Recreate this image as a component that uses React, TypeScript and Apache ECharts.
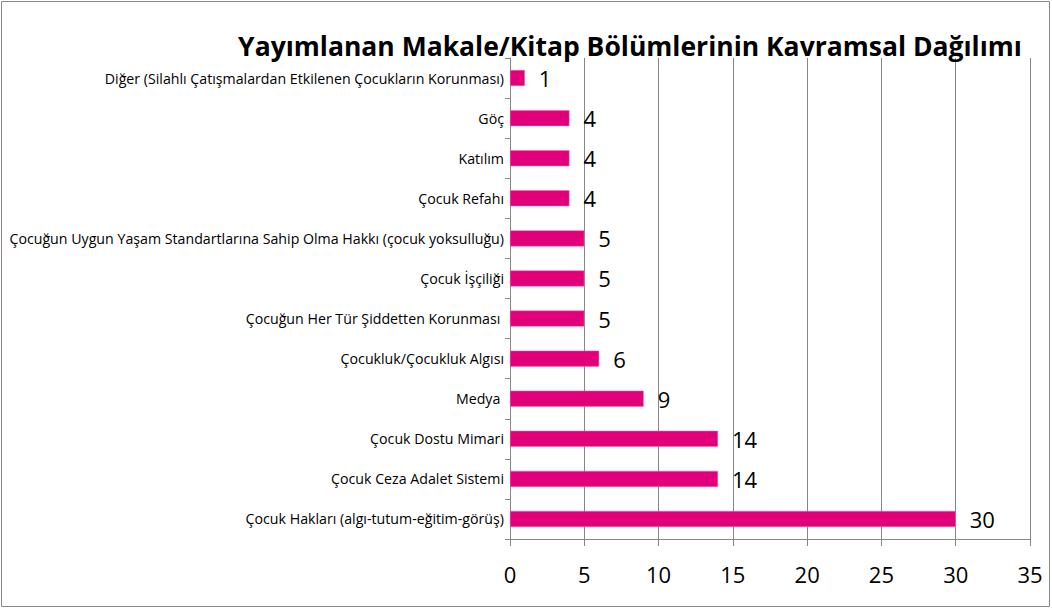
import React, { useEffect, useRef } from "react";
import * as echarts from "echarts";

const categories = [
  "Çocuk Hakları (algı-tutum-eğitim-görüş)",
  "Çocuk Ceza Adalet Sistemi",
  "Çocuk Dostu Mimari",
  "Medya ",
  "Çocukluk/Çocukluk Algısı",
  "Çocuğun Her Tür Şiddetten Korunması ",
  "Çocuk İşçiliği",
  "Çocuğun Uygun Yaşam Standartlarına Sahip Olma Hakkı (çocuk yoksulluğu)",
  "Çocuk Refahı",
  "Katılım",
  "Göç",
  "Diğer (Silahlı Çatışmalardan Etkilenen Çocukların Korunması)",
];
const values = [30, 14, 14, 9, 6, 5, 5, 5, 4, 4, 4, 1];
const title = "Yayımlanan Makale/Kitap Bölümlerinin Kavramsal Dağılımı";

export default function App() {
  const ref = useRef<HTMLDivElement>(null);
  useEffect(() => {
    document.body.style.margin = "0";
    const chart = echarts.init(ref.current!, null, { renderer: "svg" });
    const font = "'Open Sans', sans-serif";
    chart.setOption({
      animation: false,
      textStyle: { fontFamily: font },
      title: {
        text: title,
        left: 625,
        top: 27,
        textAlign: "center",
        textStyle: { fontSize: 26.5, fontWeight: "bold", color: "#000", fontFamily: font },
      },
      graphic: [
        {
          type: "rect",
          shape: { x: 1.5, y: 1.5, width: 1048, height: 605 },
          style: { fill: "none", stroke: "#888", lineWidth: 1 },
          silent: true,
        },
      ],
      grid: { left: 510, right: 22, top: 58, bottom: 70, containLabel: false },
      xAxis: {
        type: "value",
        min: 0,
        max: 35,
        interval: 5,
        axisLine: { show: true, lineStyle: { color: "#868686" } },
        axisTick: { show: true, length: 7, lineStyle: { color: "#868686" } },
        splitLine: { show: true, lineStyle: { color: "#868686", width: 1 } },
        axisLabel: { fontSize: 22, color: "#000", margin: 24, fontFamily: font },
      },
      yAxis: {
        type: "category",
        data: categories,
        axisLine: { show: true, lineStyle: { color: "#868686" } },
        axisTick: { show: true, length: 5, lineStyle: { color: "#868686" } },
        axisLabel: { fontSize: 14.2, color: "#000", margin: 6, fontFamily: font },
      },
      series: [
        {
          type: "bar",
          data: values,
          barWidth: 16,
          itemStyle: { color: "#E2007A", borderColor: "#F06AAE", borderWidth: 0.5 },
          label: {
            show: true,
            position: "right",
            distance: 14,
            fontSize: 22,
            color: "#000",
            fontFamily: font,
          },
        },
      ],
    });
    return () => chart.dispose();
  }, []);
  return <div ref={ref} style={{ width: 1052, height: 609 }} />;
}
